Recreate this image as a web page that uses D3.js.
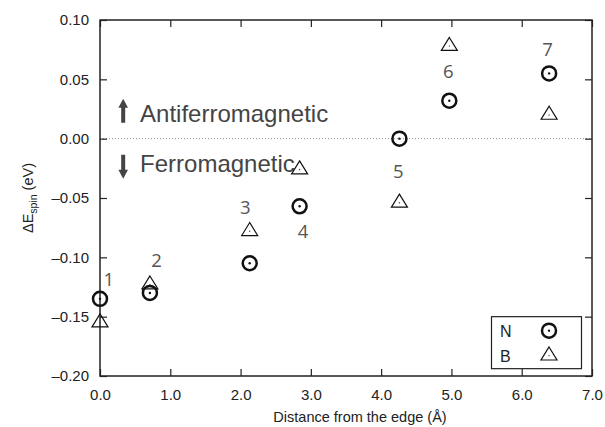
<!DOCTYPE html>
<html>
<head>
<meta charset="utf-8">
<script src="https://cdn.jsdelivr.net/npm/d3@7"></script>
<style>
  html, body { margin: 0; padding: 0; background: #fff; }
  svg { display: block; }
  text { font-family: "Liberation Sans", Arial, sans-serif; }
</style>
</head>
<body>
<svg id="chart" width="605" height="427"></svg>
<script>
// Distance of each site from the edge (Å)
const distance = [0.0, 0.71, 2.13, 2.84, 4.26, 4.97, 6.39];
// Spin energy difference for N and B substitution (eV)
const nValues = [-0.135, -0.130, -0.105, -0.057, 0.000, 0.032, 0.055];
const bValues = [-0.155, -0.123, -0.078, -0.026, -0.054, 0.078, 0.020];
// Site numbers and where they are written (data coordinates)
const siteLabels = ["1", "2", "3", "4", "5", "6", "7"];
const siteLabelX = [0.125, 0.806, 2.067, 2.887, 4.245, 4.956, 6.366];
const siteLabelY = [-0.1176, -0.1015, -0.0573, -0.0775, -0.027, 0.0572, 0.0762];
// Axis ticks
const xTicks = [0, 1, 2, 3, 4, 5, 6, 7];
const yTicks = [-0.20, -0.15, -0.10, -0.05, 0.00, 0.05, 0.10];

const svg = d3.select("#chart");
const plotL = 100, plotR = 592, plotT = 20, plotB = 376;

const x = d3.scaleLinear().domain([0, 7]).range([plotL, plotR]);
const y = d3.scaleLinear().domain([-0.2, 0.1]).range([plotB, plotT]);

const fmtX = d => d3.format(".1f")(d);
const fmtY = d => (d < 0 ? "\u2013" : "") + d3.format(".2f")(Math.abs(d));

// Zero reference line
svg.append("line")
  .attr("x1", plotL).attr("x2", plotR)
  .attr("y1", y(0)).attr("y2", y(0))
  .attr("stroke", "#888").attr("stroke-width", 1)
  .attr("stroke-dasharray", "1,2");

// Axes with inward ticks on all four sides
const tickLen = 7;
const axisStyle = g => {
  g.select(".domain").remove();
  g.selectAll(".tick line").attr("stroke", "#222").attr("stroke-width", 1.2);
  g.selectAll(".tick text")
    .attr("fill", "#222")
    .style("font-size", "15px")
    .style("font-family", "'Liberation Sans', Arial, sans-serif");
};

svg.append("g")
  .attr("transform", `translate(0,${plotB})`)
  .call(d3.axisBottom(x).tickValues(xTicks).tickFormat(fmtX)
    .tickSizeInner(-tickLen).tickSizeOuter(0).tickPadding(13))
  .call(axisStyle);

svg.append("g")
  .attr("transform", `translate(0,${plotT})`)
  .call(d3.axisTop(x).tickValues(xTicks).tickFormat("")
    .tickSizeInner(-tickLen).tickSizeOuter(0))
  .call(axisStyle);

svg.append("g")
  .attr("transform", `translate(${plotL},0)`)
  .call(d3.axisLeft(y).tickValues(yTicks).tickFormat(fmtY)
    .tickSizeInner(-tickLen).tickSizeOuter(0).tickPadding(11))
  .call(axisStyle);

svg.append("g")
  .attr("transform", `translate(${plotR},0)`)
  .call(d3.axisRight(y).tickValues(yTicks).tickFormat("")
    .tickSizeInner(-tickLen).tickSizeOuter(0))
  .call(axisStyle);

// Plot frame
svg.append("rect")
  .attr("x", plotL).attr("y", plotT)
  .attr("width", plotR - plotL).attr("height", plotB - plotT)
  .attr("fill", "none").attr("stroke", "#222").attr("stroke-width", 1.5);

// Axis titles
svg.append("text")
  .attr("x", 360).attr("y", 422)
  .attr("text-anchor", "middle")
  .attr("fill", "#222")
  .style("font-size", "14.5px")
  .text("Distance from the edge (\u00C5)");

const yTitle = svg.append("text")
  .attr("transform", `translate(33,${(plotT + plotB) / 2}) rotate(-90)`)
  .attr("text-anchor", "middle")
  .attr("fill", "#222")
  .style("font-size", "14.5px");
yTitle.append("tspan").text("\u0394E");
yTitle.append("tspan").attr("dy", 4).style("font-size", "10.5px").text("spin");
yTitle.append("tspan").attr("dy", -4).text(" (eV)");

// Magnetic ordering annotations
function arrow(cx, yTip, yTail) {
  const dir = yTip < yTail ? 1 : -1;       // 1 = pointing up
  const headLen = 9, headHalf = 4.8, shaftHalf = 2;
  const yHeadBase = yTip + dir * headLen;
  return `M${cx},${yTip} L${cx + headHalf},${yHeadBase} L${cx + shaftHalf},${yHeadBase}
          L${cx + shaftHalf},${yTail} L${cx - shaftHalf},${yTail} L${cx - shaftHalf},${yHeadBase}
          L${cx - headHalf},${yHeadBase} Z`;
}
const annoX = x(0.33);
svg.append("path").attr("d", arrow(annoX, y(0) - 40, y(0) - 16)).attr("fill", "#444");
svg.append("path").attr("d", arrow(annoX, y(0) + 40, y(0) + 16)).attr("fill", "#444");
svg.append("text")
  .attr("x", x(0.57)).attr("y", y(0) - 17)
  .attr("fill", "#444")
  .style("font-size", "24px")
  .text("Antiferromagnetic");
svg.append("text")
  .attr("x", x(0.57)).attr("y", y(0) + 33)
  .attr("fill", "#444")
  .style("font-size", "24px")
  .text("Ferromagnetic");

// Site number labels
svg.append("g").selectAll("text")
  .data(siteLabels)
  .join("text")
  .attr("x", (d, i) => x(siteLabelX[i]))
  .attr("y", (d, i) => y(siteLabelY[i]))
  .attr("text-anchor", "middle")
  .attr("dominant-baseline", "central")
  .attr("fill", "#555")
  .style("font-family", "'Open Sans', sans-serif")
  .style("font-size", "18.5px")
  .text(d => d);

// Marker shapes
const triW = 16, triH = 13;
function trianglePath() {
  return `M0,${-triH * 2 / 3} L${triW / 2},${triH / 3} L${-triW / 2},${triH / 3} Z`;
}
function drawCircleMarker(g) {
  g.append("circle").attr("r", 7).attr("fill", "none")
    .attr("stroke", "#111").attr("stroke-width", 2.5);
  g.append("circle").attr("r", 1.2).attr("fill", "#111");
}
function drawTriangleMarker(g) {
  g.append("path").attr("d", trianglePath()).attr("fill", "none")
    .attr("stroke", "#111").attr("stroke-width", 1.2).attr("stroke-linejoin", "miter");
  g.append("circle").attr("r", 0.7).attr("fill", "#444");
}

// B series (triangles)
svg.append("g").selectAll("g")
  .data(bValues)
  .join("g")
  .attr("transform", (d, i) => `translate(${x(distance[i])},${y(d)})`)
  .each(function () { drawTriangleMarker(d3.select(this)); });

// N series (circles)
svg.append("g").selectAll("g")
  .data(nValues)
  .join("g")
  .attr("transform", (d, i) => `translate(${x(distance[i])},${y(d)})`)
  .each(function () { drawCircleMarker(d3.select(this)); });

// Legend
const legend = svg.append("g");
legend.append("rect")
  .attr("x", 491.5).attr("y", y(-0.15))
  .attr("width", 90).attr("height", 52)
  .attr("fill", "#fff").attr("stroke", "#222").attr("stroke-width", 1.2);
const legendRows = [
  { name: "N", draw: drawCircleMarker, dy: 14 },
  { name: "B", draw: drawTriangleMarker, dy: 39 }
];
legendRows.forEach(r => {
  legend.append("text")
    .attr("x", 500).attr("y", y(-0.15) + r.dy + 6)
    .attr("fill", "#222")
    .style("font-size", "16px")
    .text(r.name);
  const m = legend.append("g")
    .attr("transform", `translate(549,${y(-0.15) + r.dy})`);
  r.draw(m);
});
</script>
</body>
</html>
